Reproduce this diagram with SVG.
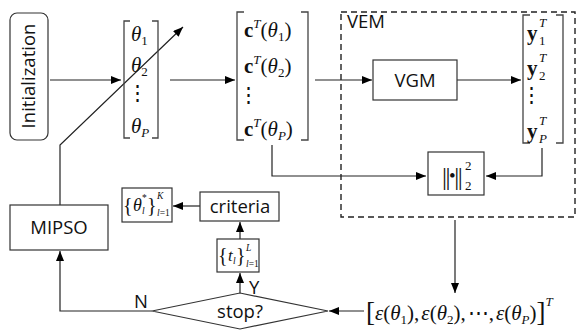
<svg xmlns="http://www.w3.org/2000/svg" width="579" height="333" viewBox="0 0 579 333">
<defs>
<marker id="arr" markerUnits="userSpaceOnUse" markerWidth="10" markerHeight="8" refX="10" refY="4" orient="auto">
<path d="M0,0 L10,4 L0,8 z" fill="#000"/>
</marker>
<style>
.box{fill:#fff;stroke:#333;stroke-width:1.2}
.ln{fill:none;stroke:#222;stroke-width:1.2}
.br{fill:none;stroke:#444;stroke-width:1.3}
.sans{font-family:"Open Sans","Noto Sans",sans-serif;font-size:18.5px;fill:#111}
.m{font-family:"Liberation Serif","Times New Roman",serif;font-size:21px;fill:#111}
.i{font-style:italic}
.b{font-weight:bold}
.s{font-size:9.5px}
.sc{font-size:13px}
.br20{font-size:20px}
</style>
</defs>
<rect width="579" height="333" fill="#fff"/>

<g id="connectors">
<path class="ln" d="M50,80 H121" marker-end="url(#arr)"/>
<path class="ln" d="M170,80 H235" marker-end="url(#arr)"/>
<path class="ln" d="M315,80 H372" marker-end="url(#arr)"/>
<path class="ln" d="M457,80 H521" marker-end="url(#arr)"/>
<path class="ln" d="M272,145 V176 H426" marker-end="url(#arr)"/>
<path class="ln" d="M542,148 V176 H486" marker-end="url(#arr)"/>
<path class="ln" d="M455,220 V293" marker-end="url(#arr)"/>
<path class="ln" d="M364,311 H329" marker-end="url(#arr)"/>
<path class="ln" d="M152,311 H60 V251" marker-end="url(#arr)"/>
<path class="ln" d="M240,293 V273" marker-end="url(#arr)"/>
<path class="ln" d="M240,239 V222" marker-end="url(#arr)"/>
<path class="ln" d="M200,206 H173" marker-end="url(#arr)"/>
<path class="ln" d="M60,205 V145 L183,27" marker-end="url(#arr)"/>
<text class="sans" x="134" y="308">N</text>
<text class="sans" x="249" y="294">Y</text>
</g>

<g id="initialization">
<rect class="box" x="10" y="13" width="38" height="127" rx="7"/>
<text class="sans" transform="translate(35,76) rotate(-90)" text-anchor="middle">Initialization</text>
</g>

<g id="theta-vector">
<path class="br" d="M130,21 H124 V138 H130 M152,21 H158 V138 H152"/>
<text class="m i" x="131" y="41">θ<tspan class="sc" dy="4" font-style="normal">1</tspan></text>
<text class="m i" x="131" y="72">θ<tspan class="sc" dy="4" font-style="normal">2</tspan></text>
<text class="m" x="137" y="100" text-anchor="middle">⋮</text>
<text class="m i" x="131" y="133">θ<tspan class="sc" dy="4">P</tspan></text>
</g>

<g id="c-vector">
<path class="br" d="M244,12 H237 V140 H244 M301,12 H308 V140 H301"/>
<text class="m" x="244" y="37"><tspan class="b">c</tspan><tspan class="i sc" dy="-9">T</tspan><tspan dy="9">(</tspan><tspan class="i">θ</tspan><tspan class="sc" dy="4">1</tspan><tspan dy="-4">)</tspan></text>
<text class="m" x="244" y="73"><tspan class="b">c</tspan><tspan class="i sc" dy="-9">T</tspan><tspan dy="9">(</tspan><tspan class="i">θ</tspan><tspan class="sc" dy="4">2</tspan><tspan dy="-4">)</tspan></text>
<text class="m" x="248" y="102" text-anchor="middle">⋮</text>
<text class="m" x="244" y="136"><tspan class="b">c</tspan><tspan class="i sc" dy="-9">T</tspan><tspan dy="9">(</tspan><tspan class="i">θ</tspan><tspan class="i sc" dy="4">P</tspan><tspan dy="-4">)</tspan></text>
</g>

<g id="vem">
<rect x="341" y="12" width="234" height="205" fill="none" stroke="#222" stroke-width="1.4" stroke-dasharray="6,4"/>
<text class="sans" x="347" y="28">VEM</text>
</g>

<g id="vgm">
<rect class="box" x="373" y="60" width="84" height="40"/>
<text class="sans" x="415" y="87" text-anchor="middle">VGM</text>
</g>

<g id="y-vector">
<path class="br" d="M530,15 H523 V143 H530 M556,15 H563 V143 H556"/>
<text class="m b" x="527" y="40">y</text><text class="m i sc" x="539" y="27">T</text><text class="m sc" x="539" y="45">1</text>
<text class="m b" x="527" y="75">y</text><text class="m i sc" x="539" y="62">T</text><text class="m sc" x="539" y="80">2</text>
<text class="m" x="531" y="102" text-anchor="middle">⋮</text>
<text class="m b" x="527" y="138">y</text><text class="m i sc" x="539" y="125">T</text><text class="m i sc" x="539" y="143">P</text>
</g>

<g id="norm">
<rect class="box" x="428" y="152" width="56" height="43"/>
<text class="m" x="442" y="185" letter-spacing="-1.5" style="font-size:25px">||<tspan style="font-size:19px" dy="-3">•</tspan><tspan dy="3">||</tspan></text>
<text class="m sc" x="465" y="170">2</text>
<text class="m sc" x="465" y="190">2</text>
</g>

<g id="epsilon-vector">
<text class="m" x="366" y="320"><tspan style="font-size:27px" dy="1">[</tspan><tspan class="i" dy="-1">ε</tspan>(<tspan class="i">θ</tspan><tspan class="sc" dy="4">1</tspan><tspan dy="-4">),</tspan><tspan class="i" dx="2">ε</tspan>(<tspan class="i">θ</tspan><tspan class="sc" dy="4">2</tspan><tspan dy="-4">),</tspan><tspan dx="2">⋯,</tspan><tspan class="i" dx="2">ε</tspan>(<tspan class="i">θ</tspan><tspan class="i sc" dy="4">P</tspan><tspan dy="-4">)</tspan><tspan style="font-size:27px" dy="1">]</tspan><tspan class="i sc" dy="-15">T</tspan></text>
</g>

<g id="stop">
<polygon class="box" points="152,311 240,293 328,311 240,329"/>
<text class="sans" x="240" y="318" text-anchor="middle">stop?</text>
</g>

<g id="t-set">
<rect class="box" x="217" y="239" width="42" height="33"/>
<text class="m br20" x="218" y="262">{</text>
<text class="m i" style="font-size:17px" x="228" y="261">t</text>
<text class="m i s" x="233" y="264">l</text>
<text class="m br20" x="236" y="262">}</text>
<text class="m i s" x="246" y="251">L</text>
<text class="m s" x="246" y="267"><tspan class="i">l</tspan>=1</text>
</g>

<g id="criteria">
<rect class="box" x="200" y="192" width="79" height="29"/>
<text class="sans" x="240" y="213" text-anchor="middle">criteria</text>
</g>

<g id="theta-star">
<rect class="box" x="122" y="188" width="50" height="34"/>
<text class="m br20" x="123" y="212">{</text>
<text class="m i" style="font-size:18px" x="133" y="211">θ</text>
<text class="m s" x="142" y="201">*</text>
<text class="m i s" x="142" y="214">l</text>
<text class="m br20" x="147" y="212">}</text>
<text class="m i s" x="157" y="199">K</text>
<text class="m s" x="157" y="216"><tspan class="i">l</tspan>=1</text>
</g>

<g id="mipso">
<rect class="box" x="10" y="205" width="98" height="45"/>
<text class="sans" x="59" y="234" text-anchor="middle">MIPSO</text>
</g>
</svg>
